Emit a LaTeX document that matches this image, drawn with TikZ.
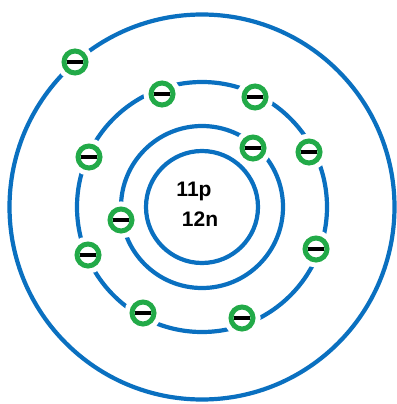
\documentclass[tikz,border=0pt]{standalone}
\usepackage{fontspec}
\setmainfont{Liberation Sans}
\definecolor{orbitblue}{RGB}{10,112,192}
\definecolor{egreen}{RGB}{34,170,72}
\begin{document}
\begin{tikzpicture}[x=1pt,y=-1pt,
  orbit/.style={draw=orbitblue,line width=4.2pt},
  electron/.style={circle,draw=egreen,line width=5pt,fill=white,
    minimum size=22pt,inner sep=0pt,
    preaction={draw=white,line width=15pt}},
  nucleus/.style={font=\bfseries\fontsize{21}{23}\selectfont,inner sep=0pt}]
\useasboundingbox (0,0) rectangle (396,404);
\fill[white] (0,0) rectangle (396,404);
% shells
\coordinate (c) at (202,207);
\draw[orbit] (c) circle[radius=56pt];
\draw[orbit] (c) circle[radius=81pt];
\draw[orbit] (c) circle[radius=125pt];
\draw[orbit] (c) circle[radius=192.5pt];
% nucleus
\node[nucleus] (p) at (194,191) {11p};
\node[nucleus] (n) at (200,219) {12n};
% electrons
\foreach \name/\px/\py in {e1/75/62,
  e2/253/148, e3/121/220,
  e4/162/94, e5/255/97, e6/309/152, e7/89/157,
  e8/316/249, e9/88/255, e10/143/313, e11/242/318}
  \node[electron] (\name) at (\px,\py) {\rule{16pt}{4pt}};
\end{tikzpicture}
\end{document}
